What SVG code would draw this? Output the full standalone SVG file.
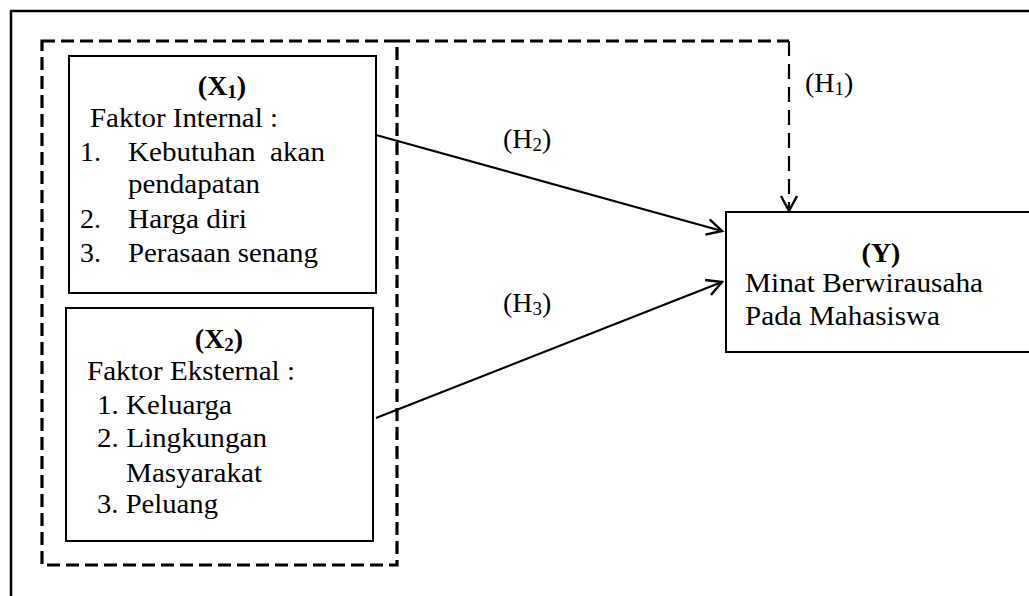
<svg xmlns="http://www.w3.org/2000/svg" width="1029" height="596" viewBox="0 0 1029 596">
<style>
text{font-family:"Liberation Serif","Times New Roman",serif;font-size:28px;fill:#000}
.b{font-weight:bold}
.box{fill:#fff;stroke:#000;stroke-width:2}
.con{fill:none;stroke:#000;stroke-width:2.2}
.dash{fill:none;stroke:#000;stroke-width:3.2;stroke-dasharray:13,6}
</style>
<defs>
<marker id="arr" markerUnits="userSpaceOnUse" markerWidth="24" markerHeight="24" viewBox="0 0 24 24" refX="21" refY="12" orient="auto">
<path d="M6,4 L21,12 L6,20" fill="none" stroke="#000" stroke-width="2.4"/>
</marker>
</defs>
<rect x="11" y="11" width="1040" height="620" fill="#fff" stroke="#000" stroke-width="2.5"/>
<g id="group-x">
<rect class="dash" x="42" y="41" width="355" height="524"/>
</g>
<g id="x1">
<rect class="box" x="69" y="56" width="307" height="237"/>
<text x="222" y="95" text-anchor="middle" class="b">(X<tspan font-size="19" dy="3">1</tspan><tspan dy="-3">)</tspan></text>
<text x="90" y="127" textLength="188" lengthAdjust="spacingAndGlyphs">Faktor Internal :</text>
<text x="80" y="161">1.</text><text x="128" y="161" xml:space="preserve" textLength="197" lengthAdjust="spacingAndGlyphs">Kebutuhan  akan</text>
<text x="128" y="193" textLength="132" lengthAdjust="spacingAndGlyphs">pendapatan</text>
<text x="80" y="228">2.</text><text x="128" y="228" textLength="119" lengthAdjust="spacingAndGlyphs">Harga diri</text>
<text x="80" y="262">3.</text><text x="128" y="262" textLength="190" lengthAdjust="spacingAndGlyphs">Perasaan senang</text>
</g>
<g id="x2">
<rect class="box" x="66" y="308" width="307" height="233"/>
<text x="219" y="348" text-anchor="middle" class="b">(X<tspan font-size="19" dy="3">2</tspan><tspan dy="-3">)</tspan></text>
<text x="87" y="380" textLength="208" lengthAdjust="spacingAndGlyphs">Faktor Eksternal :</text>
<text x="97" y="414" textLength="135" lengthAdjust="spacingAndGlyphs">1. Keluarga</text>
<text x="97" y="447" textLength="170" lengthAdjust="spacingAndGlyphs">2. Lingkungan</text>
<text x="126" y="482" textLength="136" lengthAdjust="spacingAndGlyphs">Masyarakat</text>
<text x="97" y="513" textLength="121" lengthAdjust="spacingAndGlyphs">3. Peluang</text>
</g>
<g id="y">
<rect class="box" x="726" y="212" width="310" height="140"/>
<text x="881" y="262" text-anchor="middle" class="b">(Y)</text>
<text x="745" y="292" textLength="238" lengthAdjust="spacingAndGlyphs">Minat Berwirausaha</text>
<text x="745" y="325" textLength="195" lengthAdjust="spacingAndGlyphs">Pada Mahasiswa</text>
</g>
<g id="connectors">
<path class="dash" d="M397,41 H789"/>
<path class="con" d="M789,41 V211" stroke-dasharray="15,8" marker-end="url(#arr)"/>
<path class="con" d="M376,135 L722,231" marker-end="url(#arr)"/>
<path class="con" d="M376,418 L722,282" marker-end="url(#arr)"/>
</g>
<g id="labels">
<text x="805" y="92">(H<tspan font-size="19" dy="3">1</tspan><tspan dy="-3">)</tspan></text>
<text x="503" y="148">(H<tspan font-size="19" dy="3">2</tspan><tspan dy="-3">)</tspan></text>
<text x="503" y="312">(H<tspan font-size="19" dy="3">3</tspan><tspan dy="-3">)</tspan></text>
</g>
</svg>
